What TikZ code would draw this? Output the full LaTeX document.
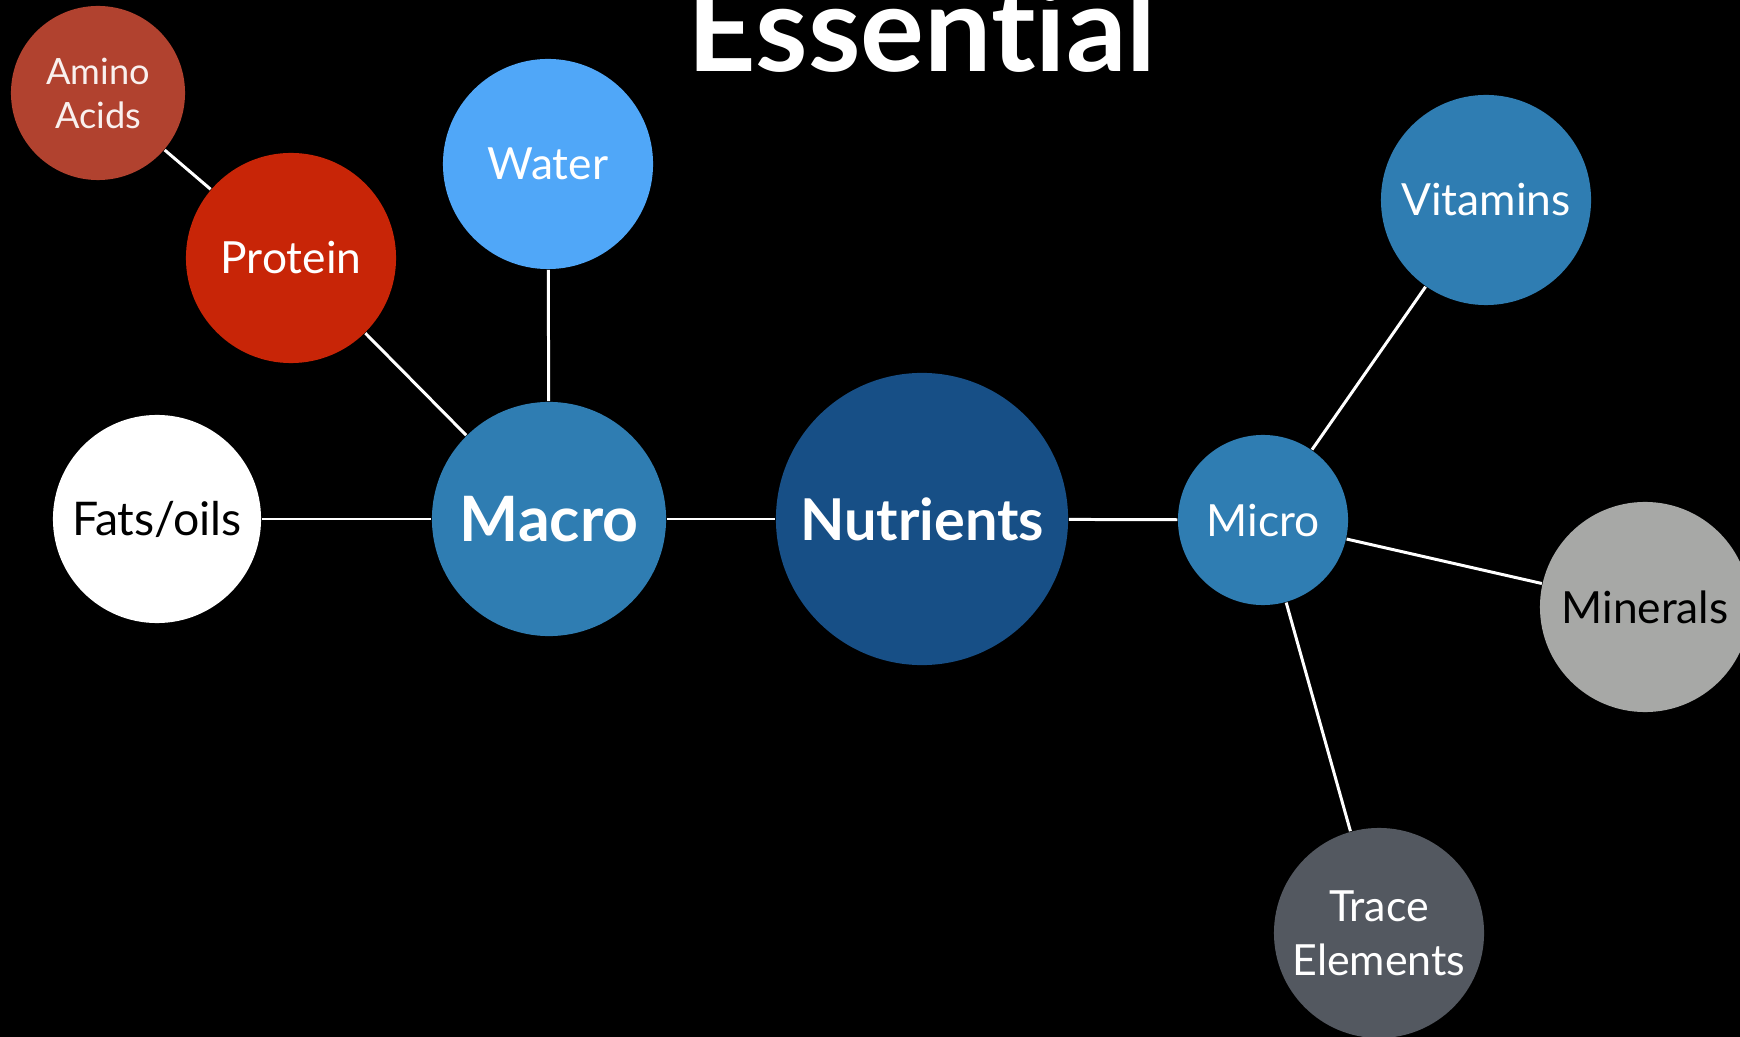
\documentclass[tikz,border=0pt]{standalone}
\usepackage{fontspec}
\setmainfont{Lato}[Ligatures=NoCommon]
\usepackage{xcolor}
\definecolor{AminoRed}{HTML}{B1422F}
\definecolor{ProteinRed}{HTML}{C82507}
\definecolor{WaterBlue}{HTML}{50A7F8}
\definecolor{MidBlue}{HTML}{2F7DB2}
\definecolor{DeepBlue}{HTML}{174F86}
\definecolor{MineralGray}{HTML}{A7A8A6}
\definecolor{TraceGray}{HTML}{535860}
\usepackage{tikz}
\usetikzlibrary{positioning}

\tikzset{
  bubble/.style={circle, inner sep=0pt, minimum size=#1, align=center, text=white},
  labelfont/.style={font=\fontsize{12.6pt}{15.4pt}\selectfont},
  link/.style={draw=white, line width=0.85pt},
}

\begin{document}
\begin{tikzpicture}[x=0.01cm, y=-0.01cm]
    % Black slide background
    \useasboundingbox (0,0) rectangle (1740,1037);
    \fill[black] (0,0) rectangle (1740,1037);
    \clip (0,0) rectangle (1740,1037);

    % Title, cut by the top edge
    \node[anchor=base, text=white, font=\bfseries\fontsize{34pt}{34pt}\selectfont] (title) at (922,72) {Essential};

    % Centre and the two branches
    \node[bubble=2.92cm, fill=DeepBlue, font=\bfseries\fontsize{16.4pt}{16.4pt}\selectfont] (nutrients) at (922,519) {Nutrients};
    \node[bubble=2.34cm, fill=MidBlue, font=\bfseries\fontsize{17.8pt}{17.8pt}\selectfont] (macro) at (549,519) {Macro};
    \node[bubble=1.70cm, fill=MidBlue, labelfont] (micro) at (1263,520) {Micro};

    % Macro nutrients
    \node[bubble=2.10cm, fill=WaterBlue, labelfont] (water) at (548,164) {Water};
    \node[bubble=2.10cm, fill=ProteinRed, labelfont] (protein) at (291,258) {Protein};
    \node[bubble=1.74cm, fill=AminoRed, text=white!92!AminoRed, font=\fontsize{10.3pt}{12.5pt}\selectfont] (amino) at (98,93) {Amino\\Acids};
    \node[bubble=2.08cm, fill=white, text=black, font=\fontsize{13.2pt}{15.4pt}\selectfont] (fats) at (157,519) {Fats/oils};

    % Micro nutrients
    \node[bubble=2.10cm, fill=MidBlue, labelfont] (vitamins) at (1486,200) {Vitamins};
    \node[bubble=2.10cm, fill=MineralGray, text=black, labelfont] (minerals) at (1645,607) {Minerals};
    \node[bubble=2.10cm, fill=TraceGray, font=\fontsize{12.2pt}{15.4pt}\selectfont] (trace) at (1379,933) {Trace\\Elements};

    % Connectors
    \foreach \a/\b in {amino/protein, protein/macro, water/macro, fats/macro,
                       macro/nutrients, nutrients/micro,
                       micro/vitamins, micro/minerals, micro/trace}
      \draw[link] (\a) -- (\b);
\end{tikzpicture}
\end{document}
